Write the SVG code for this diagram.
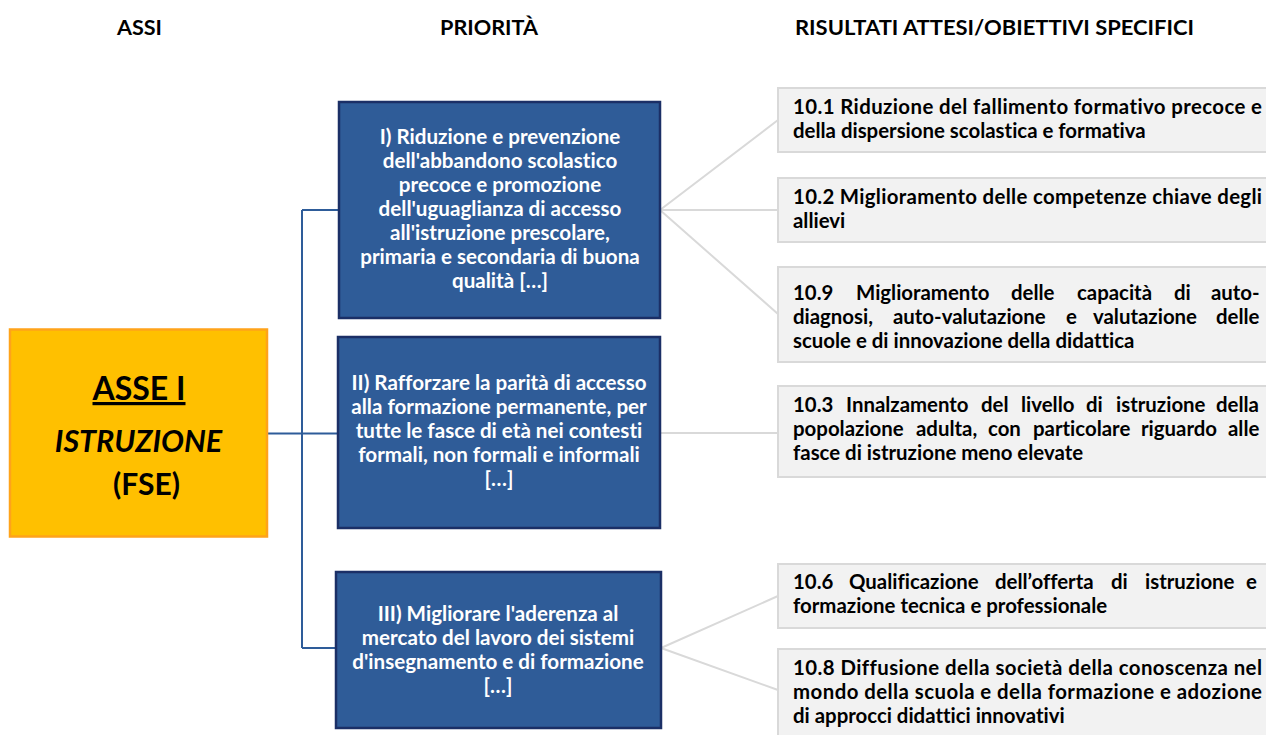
<svg xmlns="http://www.w3.org/2000/svg" width="1266" height="735" viewBox="0 0 1266 735">
<style>
text{font-family:Lato,"Open Sans","Liberation Sans",sans-serif;font-weight:bold;font-variant-ligatures:none}
.hdr{font-size:21px;fill:#000;text-anchor:middle}
.blue rect{fill:#2F5C98;stroke:#1B2F66;stroke-width:2.5}
.blue text{fill:#fff;font-size:20.6px;text-anchor:middle}
.gray rect{fill:#F2F2F2;stroke:#D9D9D9;stroke-width:2}
.gray text{fill:#000;font-size:20.4px}
.cb{stroke:#2E5C99;stroke-width:2;fill:none}
.cg{stroke:#D9D9D9;stroke-width:2;fill:none}
</style>
<rect width="1266" height="735" fill="#fff"/>
<g id="headers">
<text class="hdr" x="139.5" y="35" textLength="45" lengthAdjust="spacingAndGlyphs">ASSI</text>
<text class="hdr" x="489" y="35" textLength="98" lengthAdjust="spacingAndGlyphs">PRIORITÀ</text>
<text class="hdr" x="994.5" y="35" textLength="399" lengthAdjust="spacingAndGlyphs">RISULTATI ATTESI/OBIETTIVI SPECIFICI</text>
</g>
<g id="connectors">
<path class="cb" d="M267 433.5H338M302 210V648M302 210H339M302 648H336"/>
<path class="cg" d="M660 210L778 120M660 210H778M660 210L778 314M660 433H778M661 648L778 596M661 648L778 690"/>
</g>
<g id="asse">
<rect x="10" y="329.5" width="257" height="207" fill="#FFC000" stroke="#FFA31A" stroke-width="2.5"/>
<text x="139" y="400" font-size="32" text-anchor="middle" fill="#000" text-decoration="underline">ASSE I</text>
<text x="138.5" y="452" font-size="30.5" font-style="italic" text-anchor="middle" fill="#000">ISTRUZIONE</text>
<text x="146.5" y="495" font-size="30" text-anchor="middle" fill="#000">(FSE)</text>
</g>
<g id="p1" class="blue">
<rect x="339" y="102" width="321" height="216"/>
<text x="500" y="144">I) Riduzione e prevenzione</text>
<text x="500" y="168">dell'abbandono scolastico</text>
<text x="500" y="192">precoce e promozione</text>
<text x="500" y="216">dell'uguaglianza di accesso</text>
<text x="500" y="240">all'istruzione prescolare,</text>
<text x="500" y="264">primaria e secondaria di buona</text>
<text x="500" y="288">qualità […]</text>
</g>
<g id="p2" class="blue">
<rect x="338" y="337" width="322" height="191"/>
<text x="499" y="390">II) Rafforzare la parità di accesso</text>
<text x="499" y="414">alla formazione permanente, per</text>
<text x="499" y="438">tutte le fasce di età nei contesti</text>
<text x="499" y="462">formali, non formali e informali</text>
<text x="499" y="486">[…]</text>
</g>
<g id="p3" class="blue">
<rect x="336" y="572" width="325" height="156"/>
<text x="498" y="621">III) Migliorare l'aderenza al</text>
<text x="498" y="645">mercato del lavoro dei sistemi</text>
<text x="498" y="669">d'insegnamento e di formazione</text>
<text x="498" y="693">[…]</text>
</g>
<g id="r101" class="gray">
<rect x="778" y="88" width="496" height="64"/>
<text x="793" y="114" textLength="469" lengthAdjust="spacing">10.1 Riduzione del fallimento formativo precoce e</text>
<text x="793" y="138">della dispersione scolastica e formativa</text>
</g>
<g id="r102" class="gray">
<rect x="778" y="178" width="496" height="64"/>
<text x="793" y="204" textLength="469" lengthAdjust="spacing">10.2 Miglioramento delle competenze chiave degli</text>
<text x="793" y="228">allievi</text>
</g>
<g id="r109" class="gray">
<rect x="778" y="267" width="496" height="95"/>
<text y="300"><tspan x="793">10.9</tspan><tspan x="856">Miglioramento</tspan><tspan x="1011">delle</tspan><tspan x="1077">capacità</tspan><tspan x="1174">di</tspan><tspan x="1211">auto-</tspan></text>
<text y="324"><tspan x="793">diagnosi,</tspan><tspan x="893">auto-valutazione</tspan><tspan x="1066">e</tspan><tspan x="1093">valutazione</tspan><tspan x="1216">delle</tspan></text>
<text x="793" y="348">scuole e di innovazione della didattica</text>
</g>
<g id="r103" class="gray">
<rect x="778" y="386" width="496" height="91"/>
<text y="412"><tspan x="793">10.3</tspan><tspan x="846">Innalzamento</tspan><tspan x="981">del</tspan><tspan x="1021">livello</tspan><tspan x="1086">di</tspan><tspan x="1116">istruzione</tspan><tspan x="1216">della</tspan></text>
<text y="436"><tspan x="793">popolazione</tspan><tspan x="916">adulta,</tspan><tspan x="988">con</tspan><tspan x="1033">particolare</tspan><tspan x="1141">riguardo</tspan><tspan x="1228">alle</tspan></text>
<text x="793" y="460">fasce di istruzione meno elevate</text>
</g>
<g id="r106" class="gray">
<rect x="778" y="564" width="496" height="64"/>
<text y="589"><tspan x="793">10.6</tspan><tspan x="849">Qualificazione</tspan><tspan x="995">dell’offerta</tspan><tspan x="1111">di</tspan><tspan x="1145">istruzione</tspan><tspan x="1246">e</tspan></text>
<text x="793" y="613">formazione tecnica e professionale</text>
</g>
<g id="r108" class="gray">
<rect x="778" y="649" width="496" height="100"/>
<text x="793" y="675" textLength="469" lengthAdjust="spacing">10.8 Diffusione della società della conoscenza nel</text>
<text x="793" y="699" textLength="469" lengthAdjust="spacing">mondo della scuola e della formazione e adozione</text>
<text x="793" y="723">di approcci didattici innovativi</text>
</g>
</svg>
